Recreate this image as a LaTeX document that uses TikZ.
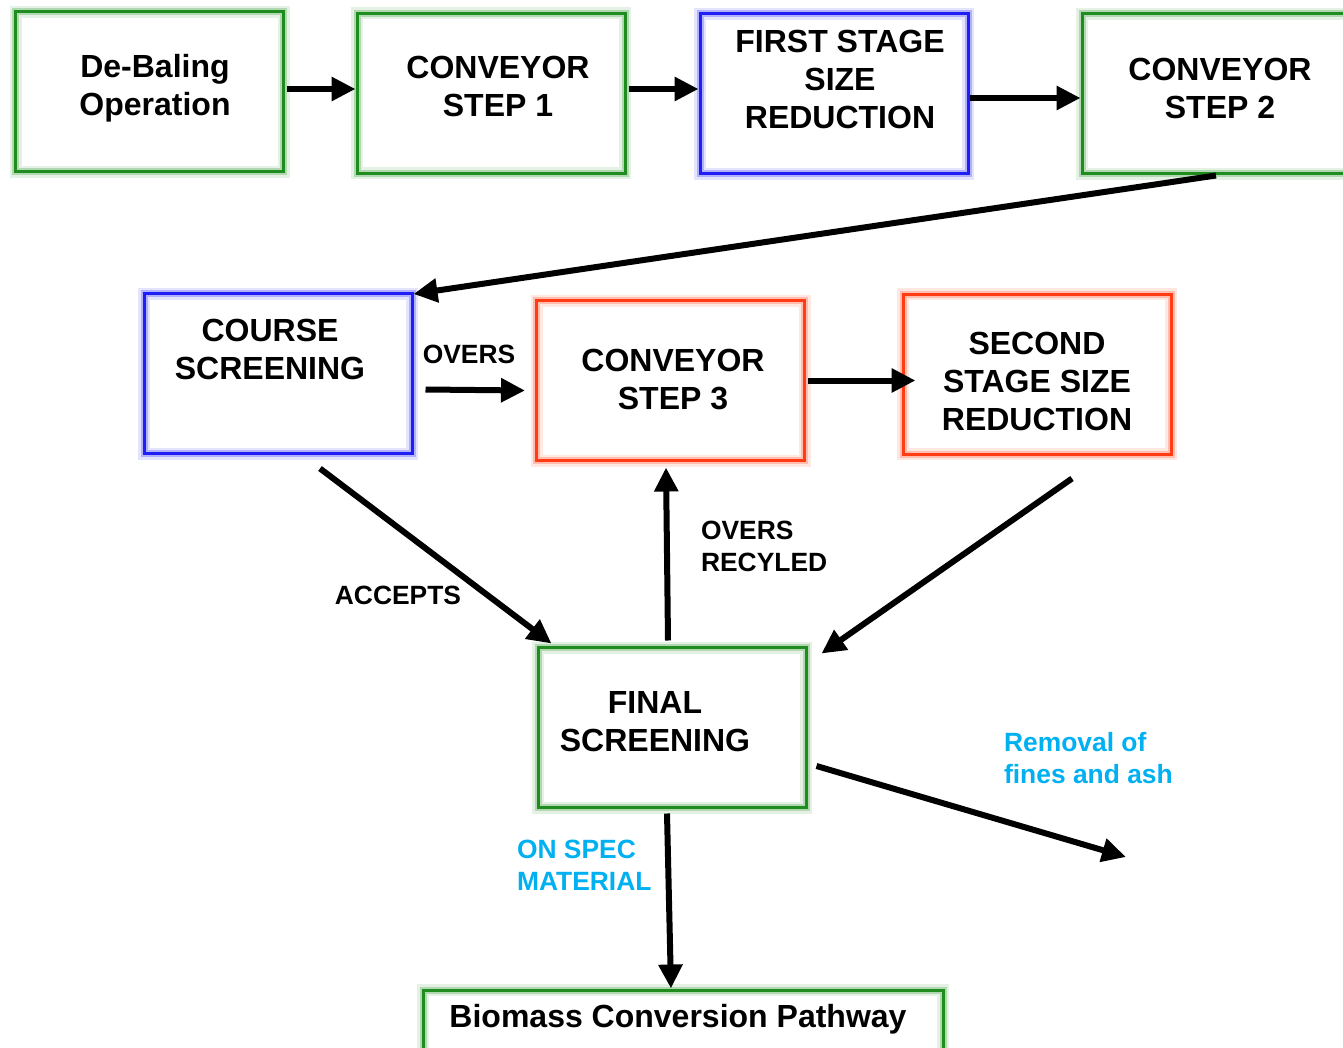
\documentclass[tikz,border=0pt]{standalone}
\usepackage{fontspec}
\setmainfont{Liberation Sans}
\usetikzlibrary{arrows.meta}

\definecolor{boxgreen}{RGB}{30,140,30}
\definecolor{boxblue}{RGB}{30,30,245}
\definecolor{boxred}{RGB}{255,60,20}
\definecolor{skyblue}{RGB}{0,176,240}

\tikzset{
	box/.style={draw=#1, line width=1.5pt, minimum width=134pt, minimum height=80pt,
		preaction={draw=#1, line width=6pt, opacity=0.12},
		preaction={draw=#1, line width=3.5pt, opacity=0.25}},
	boxtext/.style={align=center, font=\fontsize{16}{19}\selectfont\bfseries},
	lbl/.style={align=left, font=\fontsize{13.2}{16}\selectfont\bfseries},
	bluelbl/.style={align=left, text=skyblue, font=\fontsize{13.2}{16}\selectfont\bfseries},
	flow/.style={line width=3pt, -{Triangle[length=12pt,width=11.5pt]}}
}

\begin{document}
\begin{tikzpicture}[x=0.5pt,y=-0.5pt]
	\useasboundingbox (0,0) rectangle (1343,1048);
	\clip (0,0) rectangle (1343,1048);
	
	% boxes
	\node[box=boxgreen] (debal) at (149.5,92) {};
	\node[box=boxgreen] (conv1) at (491,93.5) {};
	\node[box=boxblue] (first) at (834,94) {};
	\node[box=boxgreen] (conv2) at (1216,94) {};
	\node[box=boxblue] (course) at (278,373.5) {};
	\node[box=boxred] (conv3) at (670.5,380.5) {};
	\node[box=boxred] (second) at (1037,374) {};
	\node[box=boxgreen] (final) at (672,727.5) {};
	\node[box=boxgreen, minimum width=260pt, minimum height=35pt] (biomass) at (683,1025) {};
	
	% box texts
	\begin{scope}[every node/.style={boxtext}]
		\node (debaltxt) at (155,88) {De-Baling\\Operation};
		\node (conv1txt) at (498,86) {CONVEYOR\\STEP 1};
		\node (firsttxt) at (840,79) {FIRST STAGE\\SIZE\\REDUCTION};
		\node (conv2txt) at (1220,88) {CONVEYOR\\STEP 2};
		\node (coursetxt) at (270,349) {COURSE\\SCREENING};
		\node (conv3txt) at (673,380) {CONVEYOR\\STEP 3};
		\node (secondtxt) at (1037,381) {SECOND\\STAGE SIZE\\REDUCTION};
		\node (finaltxt) at (655,722) {FINAL\\SCREENING};
		\node (biotxt) at (678,1019) {Biomass Conversion Pathway};
	\end{scope}
	
	% labels
	\node[lbl] (overs) at (469,354) {OVERS};
	\node[lbl] (accepts) at (398,595) {ACCEPTS};
	\node[lbl, anchor=west] (recyled) at (694,546) {OVERS\\RECYLED};
	\node[bluelbl, anchor=west] (removal) at (997,758) {Removal of\\fines and ash};
	\node[bluelbl, anchor=west] (onspec) at (510,865) {ON SPEC\\MATERIAL};
	\coordinate (ashout) at (1126,857);
	
	% connectors
	\draw[flow] ([xshift=1pt,yshift=1.5pt]debal.east) -- ([yshift=1.5pt]debal.east -| conv1.west);
	\draw[flow] ([xshift=1pt,yshift=2.25pt]conv1.east) -- ([yshift=2.25pt]conv1.east -| first.west);
	\draw[flow] ([yshift=-2pt]first.east) -- ([yshift=-2pt]first.east -| conv2.west);
	\draw[flow] (conv2.south) -- ([yshift=-1pt]course.north east);
	\draw[flow] ([xshift=6pt,yshift=-8pt]course.east) -- ([xshift=-5pt,yshift=-5pt]conv3.west);
	\draw[flow] ([xshift=1pt]conv3.east) -- ([xshift=7pt]conv3.east -| second.west);
	\draw[flow] ([xshift=21pt,yshift=-6.75pt]course.south) -- ([xshift=7.5pt,yshift=1.25pt]final.north west);
	\draw[flow] ([xshift=-2pt,yshift=2.75pt]final.north) -- ([xshift=-2.25pt,yshift=-2.75pt]conv3.south);
	\draw[flow] ([xshift=17.5pt,yshift=-11.5pt]second.south) -- ([xshift=7pt,yshift=-3.75pt]final.north east);
	\draw[flow] ([xshift=4.5pt,yshift=-19.25pt]final.east) -- (ashout);
	\draw[flow] ([xshift=-2.5pt,yshift=-2.25pt]final.south) -- ([xshift=-6pt]biomass.north);
\end{tikzpicture}
\end{document}
